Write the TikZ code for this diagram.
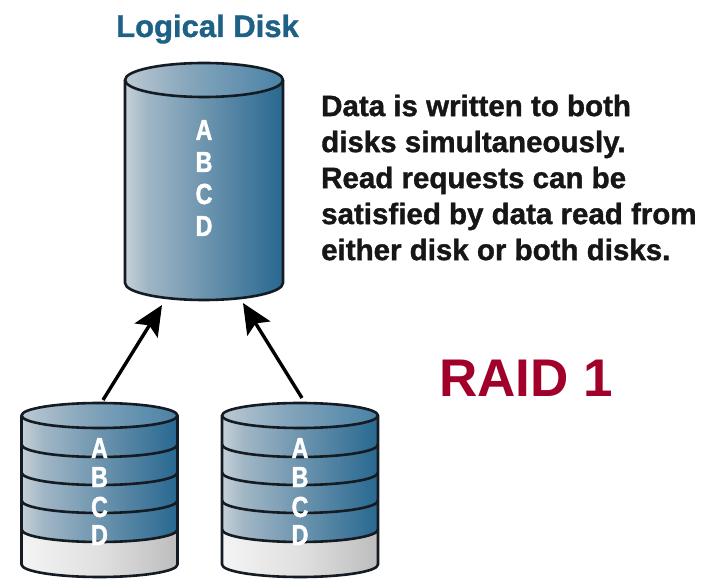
\documentclass[tikz,border=0pt]{standalone}
\usepackage{fontspec}
\setmainfont{Liberation Sans}
\newfontfamily\heavyfont{Liberation Sans}[BoldFeatures={FakeBold=1.2}]
\newfontfamily\condfont{Liberation Sans}[FakeStretch=0.8, BoldFeatures={FakeBold=1.5}]
\usetikzlibrary{arrows.meta}

% palette
\definecolor{dlight}{HTML}{C6D1D9}
\definecolor{dmidl}{HTML}{A0B6C5}
\definecolor{dmid}{HTML}{6891AC}
\definecolor{ddark}{HTML}{286890}
\definecolor{tlight}{HTML}{BCC9D3}
\definecolor{tmid}{HTML}{86A6BC}
\definecolor{tdark}{HTML}{4A82A6}
\definecolor{glight}{HTML}{F4F4F4}
\definecolor{gmid}{HTML}{E0E0E0}
\definecolor{gdark}{HTML}{BDBDBD}
\definecolor{edge}{HTML}{141B22}
\definecolor{titleblue}{HTML}{1E6187}
\definecolor{raidred}{HTML}{A1002B}
\definecolor{ink}{HTML}{161616}

% cylinder shadings (the 25bp..75bp band spans the filled path)
\pgfdeclarehorizontalshading{diskbody}{100bp}{color(0bp)=(dlight); color(25bp)=(dlight);
  color(32bp)=(dmidl); color(52bp)=(dmid); color(75bp)=(ddark); color(100bp)=(ddark)}
\pgfdeclarehorizontalshading{disktop}{100bp}{color(0bp)=(tlight); color(25bp)=(tlight);
  color(45bp)=(tmid); color(75bp)=(tdark); color(100bp)=(tdark)}
\pgfdeclarehorizontalshading{diskbase}{100bp}{color(0bp)=(glight); color(25bp)=(glight);
  color(50bp)=(gmid); color(75bp)=(gdark); color(100bp)=(gdark)}

\tikzset{
  outline/.style={draw=edge, line width=2.6pt, line join=round},
  letter/.style={anchor=base, inner sep=0pt, text=white,
    font=\condfont\fontsize{29}{29}\selectfont\bfseries},
  mirrorarrow/.style={draw=black, line width=3.4pt,
    -{Stealth[length=30pt, width=27pt, inset=6pt]}},
}

% one physical disk of the mirror: top face, four data bands and a grey base
\newcommand{\raidstack}[1]{%
  \begin{scope}[shift={(#1,0)}]
    \shade[shading=diskbody] (-78,165.5) -- (-78,51.5)
      arc[start angle=180, end angle=360, x radius=78, y radius=12.5] -- (78,165.5) -- cycle;
    \shade[shading=diskbase] (-78,51.5) -- (-78,16.5)
      arc[start angle=180, end angle=360, x radius=78, y radius=12.5] -- (78,51.5)
      arc[start angle=0, end angle=-180, x radius=78, y radius=12.5] -- cycle;
    \foreach \yy in {136.5,108.5,80.5,51.5}
      \draw[outline] (-78,\yy) arc[start angle=180, end angle=360, x radius=78, y radius=12.5];
    \shade[shading=disktop] (0,165.5) ellipse[x radius=78, y radius=12.5];
    \draw[outline] (0,165.5) ellipse[x radius=78, y radius=12.5];
    \draw[outline] (-78,165.5) -- (-78,16.5)
      arc[start angle=180, end angle=360, x radius=78, y radius=12.5] -- (78,165.5);
  \end{scope}}

\begin{document}
\begin{tikzpicture}[x=1pt, y=1pt]
\useasboundingbox[fill=white] (0,0) rectangle (706,581);

% logical disk
\shade[shading=diskbody] (125,501) -- (125,298)
  arc[start angle=180, end angle=360, x radius=79, y radius=17] -- (283,501) -- cycle;
\shade[shading=disktop] (204,501) ellipse[x radius=79, y radius=17];
\draw[outline] (204,501) ellipse[x radius=79, y radius=17];
\draw[outline] (125,501) -- (125,298)
  arc[start angle=180, end angle=360, x radius=79, y radius=17] -- (283,501);

\node[anchor=base, inner sep=0pt, text=titleblue,
  font=\heavyfont\fontsize{31}{36}\selectfont\bfseries] (title) at (207.5,544) {Logical Disk};

\node[letter] (lgA) at (204,441) {A};
\node[letter] (lgB) at (204,409) {B};
\node[letter] (lgC) at (204,377) {C};
\node[letter] (lgD) at (204,345) {D};

% mirrored physical disks
\raidstack{99.5}
\raidstack{300}

\node[letter] (p1A) at (99.5,123) {A};
\node[letter] (p1B) at (99.5,94) {B};
\node[letter] (p1C) at (99.5,64) {C};
\node[letter] (p1D) at (99.5,36) {D};
\node[letter] (p2A) at (300,123) {A};
\node[letter] (p2B) at (300,94) {B};
\node[letter] (p2C) at (300,64) {C};
\node[letter] (p2D) at (300,36) {D};

% both disks feed the logical disk
\coordinate (disk1top) at (103,181);
\coordinate (disk2top) at (302,183);
\coordinate (logleft) at (162,276);
\coordinate (logright) at (243,278);
\draw[mirrorarrow] (disk1top) -- (logleft);
\draw[mirrorarrow] (disk2top) -- (logright);

% captions
\node[anchor=north west, inner sep=0pt, align=left, text=ink,
  font=\heavyfont\fontsize{29.5}{36}\selectfont\bfseries] (desc) at (321,486.5)
  {Data is written to both\\disks simultaneously.\\Read requests can be\\satisfied by data read from\\either disk or both disks.};

\node[anchor=base west, inner sep=0pt, text=raidred,
  font=\fontsize{53}{60}\selectfont\bfseries] (raid) at (439,184) {RAID 1};
\end{tikzpicture}
\end{document}
